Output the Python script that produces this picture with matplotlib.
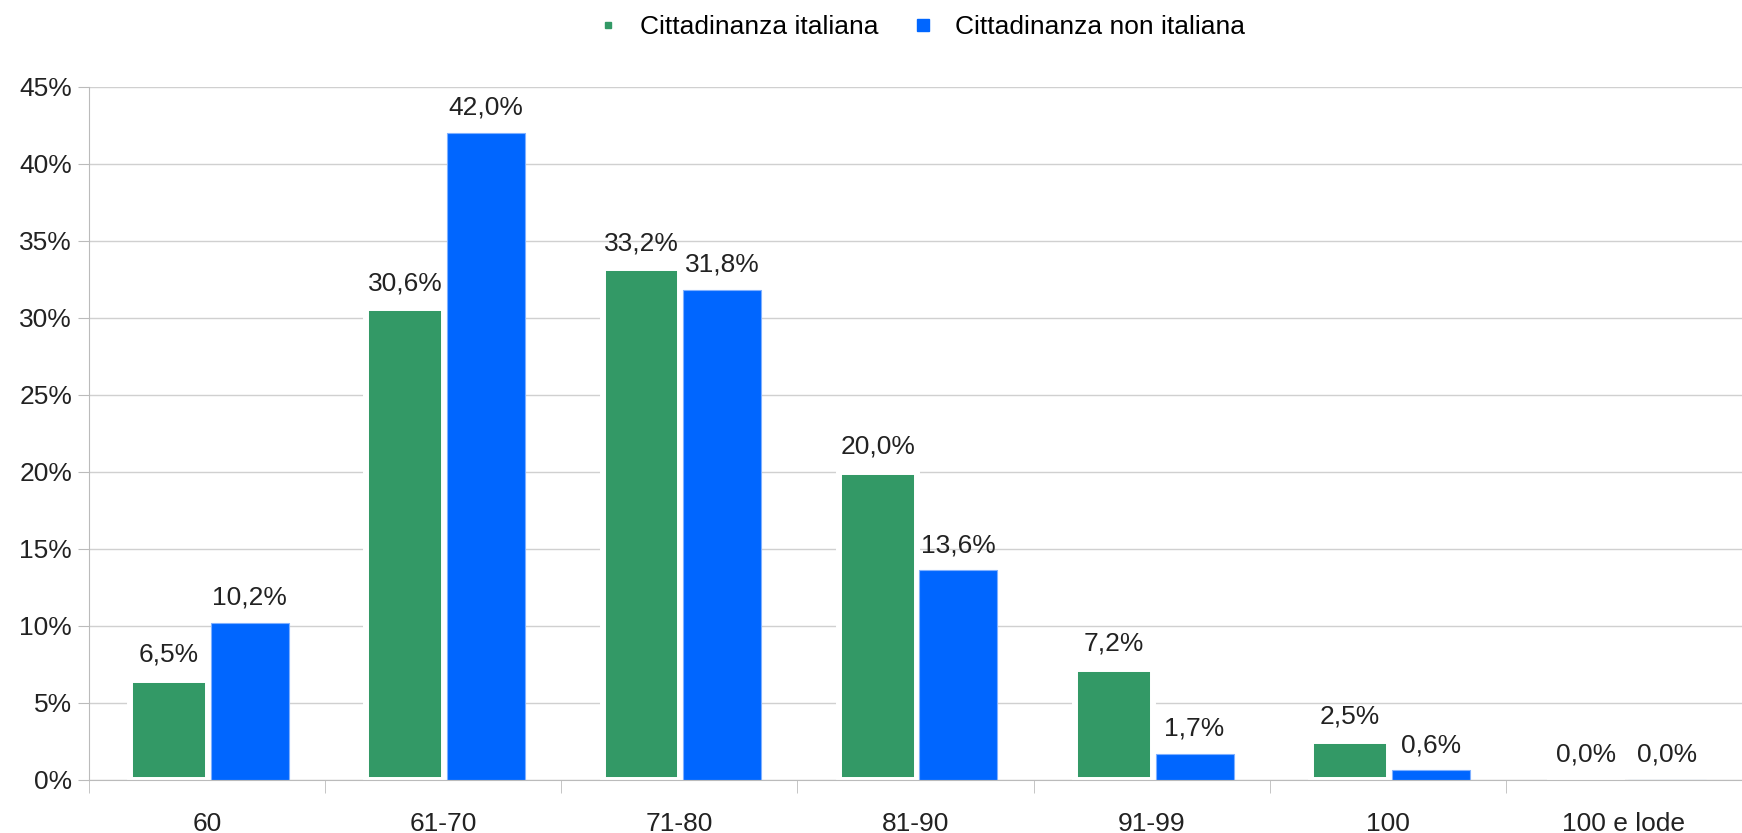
import matplotlib.pyplot as plt
import numpy as np
from matplotlib.ticker import FuncFormatter
from matplotlib.lines import Line2D

plt.rcParams['font.family'] = ['Liberation Sans', 'DejaVu Sans']

categories = ["60", "61-70", "71-80", "81-90", "91-99", "100", "100 e lode"]
italiana = [6.5, 30.6, 33.2, 20.0, 7.2, 2.5, 0.0]
non_italiana = [10.2, 42.0, 31.8, 13.6, 1.7, 0.6, 0.0]
series_names = ["Cittadinanza italiana", "Cittadinanza non italiana"]
colors = ["#339966", "#0066ff"]

fig = plt.figure(figsize=(17.42, 8.33), dpi=100)
ax = fig.add_axes([0.051, 0.064, 0.949, 0.832])

x = np.arange(len(categories))
w = 0.33
b1 = ax.bar(x - 0.16, italiana, w, color=colors[0], edgecolor="white", linewidth=4.3)
b2 = ax.bar(x + 0.182, non_italiana, w, color=colors[1], edgecolor="#7fb0ff", linewidth=0.8)

def fmt(v):
    return f"{v:.1f}%".replace(".", ",")

for bars, vals in ((b1, italiana), (b2, non_italiana)):
    for rect, v in zip(bars, vals):
        ax.annotate(fmt(v), (rect.get_x() + rect.get_width() / 2, v),
                    xytext=(0, 18), textcoords="offset points",
                    ha="center", va="center", fontsize=19, color="#222222")

ax.set_xlim(-0.5, len(categories) - 0.5)
ax.set_ylim(0, 45)
ax.set_yticks(np.arange(0, 46, 5))
ax.yaxis.set_major_formatter(FuncFormatter(lambda v, p: f"{v:.0f}%"))
ax.set_xticks(x)
ax.set_xticklabels(categories)
ax.set_xticks(np.arange(-0.5, len(categories), 1), minor=True)
ax.tick_params(axis="x", which="major", length=0, pad=23, labelsize=19, labelcolor="#222222")
ax.tick_params(axis="x", which="minor", length=9, color="#bbbbbb")
ax.tick_params(axis="y", length=8, color="#bbbbbb", labelsize=19, labelcolor="#222222", pad=4)

ax.grid(axis="y", color="#d0d0d0", linewidth=1)
ax.set_axisbelow(True)
for s in ("top", "right"):
    ax.spines[s].set_visible(False)
ax.spines["left"].set_color("#bbbbbb")
ax.spines["bottom"].set_color("#bbbbbb")

handles = [
    Line2D([], [], linestyle="none", marker="s", markersize=5, color=colors[0]),
    Line2D([], [], linestyle="none", marker="s", markersize=8, color=colors[1]),
]
fig.legend(handles, series_names, loc="upper center", bbox_to_anchor=(0.529, 1.01),
           ncol=2, frameon=False, fontsize=19, handlelength=0.8,
           columnspacing=1.3, handletextpad=0.8)

fig.savefig("out.png", dpi=100, facecolor="white")
